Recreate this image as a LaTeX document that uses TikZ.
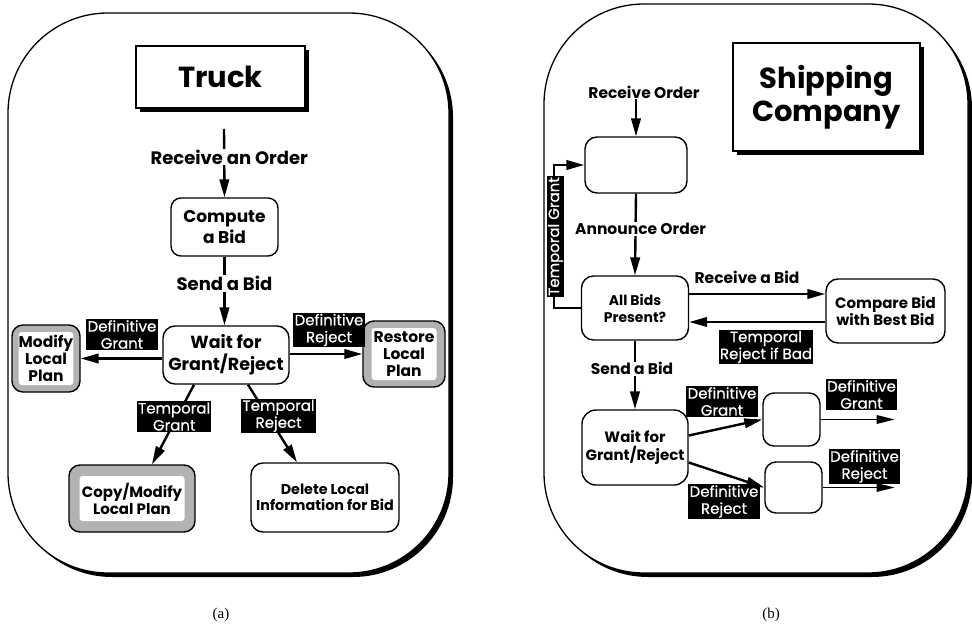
\documentclass[tikz,border=0pt]{standalone}
\usepackage{fontspec}
\setsansfont{Poppins}
\newfontfamily\lblfont{Poppins}[FakeBold=0.6]
\newfontfamily\capfont{Liberation Serif}
\usetikzlibrary{arrows.meta,calc,shadows}
\newcommand{\fsz}[2]{\fontsize{#1}{#2}\selectfont}
\begin{document}
\begin{tikzpicture}[x=1pt,y=-1pt,
  box/.style={draw, line width=1.4pt, fill=white, rounded corners=10pt, align=center,
    font=\sffamily\bfseries\fsz{15}{17}, inner sep=0pt},
  shadebox/.style={draw, line width=1.4pt, fill=gray!60, rounded corners=11pt, inner sep=0pt},
  innerw/.style={fill=white, rounded corners=3pt, align=center,
    font=\sffamily\bfseries\fsz{15.5}{17}, inner sep=0pt},
  titlebox/.style={draw, line width=1.3pt, fill=white, align=center, inner sep=0pt,
    font=\sffamily\bfseries\fsz{29}{33},
    drop shadow={opacity=1, fill=black, shadow xshift=4pt, shadow yshift=-4pt}},
  lbl/.style={fill=black, text=white, align=center, inner sep=1.2pt,
    font=\lblfont\fsz{15}{17}},
  plain/.style={fill=white, inner sep=1pt, font=\sffamily\bfseries\fsz{15.5}{17}},
  plainA/.style={plain, font=\sffamily\bfseries\fsz{18}{20}},
  arr/.style={line width=2.4pt, -{Triangle[length=18pt,width=9.5pt]}},
  arrthin/.style={line width=1.6pt, -{Triangle[length=18pt,width=8.5pt]}},
  captxt/.style={font=\capfont\fsz{15}{17}}
]
\useasboundingbox (0,0) rectangle (972,629);

% panels
\fill[black, rounded corners=100pt] (12,17) rectangle (453,577);
\draw[fill=white, line width=1.3pt, rounded corners=100pt] (8,13) rectangle (449,573);
\fill[black, rounded corners=100pt] (548,8) rectangle (972,577);
\draw[fill=white, line width=1.3pt, rounded corners=100pt] (544,4) rectangle (968,573);

% ---------- (a) Truck ----------
\node[titlebox, minimum width=169pt, minimum height=62pt] (truck) at (220.5,77) {Truck};
\coordinate (ra) at (224,129);
\node[box, minimum width=107pt, minimum height=58pt, font=\sffamily\bfseries\fsz{17}{21}] (compute) at (224.5,227) {Compute\\a Bid};
\node[box, rounded corners=12pt, minimum width=126pt, minimum height=58pt, font=\sffamily\bfseries\fsz{17.5}{22}] (wait) at (226,355) {Wait for\\Grant/Reject};
\node[shadebox, minimum width=68pt, minimum height=67pt] (modify) at (46,358.5) {};
\node[innerw, minimum width=52pt, minimum height=53pt] (modifyin) at (modify) {Modify\\Local\\Plan};
\node[shadebox, minimum width=82pt, minimum height=66pt] (restore) at (404,354) {};
\node[innerw, minimum width=65pt, minimum height=52pt] (restorein) at (restore) {Restore\\Local\\Plan};
\node[shadebox, minimum width=126pt, minimum height=67pt] (copy) at (132,498.5) {};
\node[innerw, minimum width=105pt, minimum height=45pt, font=\sffamily\bfseries\fsz{15}{17}] (copyin) at (copy) {Copy/Modify\\Local Plan};
\node[box, rounded corners=12pt, minimum width=148pt, minimum height=69pt, font=\sffamily\bfseries\fsz{14.3}{16.5}] (delete) at (325,497.5) {Delete Local\\Information for Bid};

\draw[arr] (ra) -- (compute.north) node[plainA, pos=0.41, xshift=5pt] (recv) {Receive an Order};
\draw[arr] (compute.south) -- (compute.south |- wait.north) node[plainA, pos=0.39] (send) {Send a Bid};
\draw[arr] (wait.west |- modify) -- (modify.east);
\draw[arr] (wait.east |- restore) -- (restore.west);
\draw[arr] ($(wait.south)+(-32,0)$) -- ($(copy.north)+(20,0)$) node[lbl, pos=0.4, xshift=-3pt] (tg) {Temporal\\Grant};
\draw[arr] ($(wait.south)+(22,0)$) -- ($(delete.north)+(-28,0)$) node[lbl, pos=0.4, xshift=11pt] (tr) {Temporal\\Reject};
\node[lbl] (dg) at (122,334.5) {Definitive\\Grant};
\node[lbl] (dr) at (329,330) {Definitive\\Reject};
\node[captxt] (capa) at (221,615) {(a)};

% ---------- (b) Shipping Company ----------
\node[titlebox, minimum width=187pt, minimum height=108pt] (ship) at (826.5,97) {Shipping\\Company};
\node[plain] (ro) at (644,92) {Receive Order};
\node[box, rounded corners=12pt, minimum width=102pt, minimum height=56pt] (top) at (636,165) {};
\node[box, rounded corners=12pt, minimum width=107pt, minimum height=64pt, font=\sffamily\bfseries\fsz{14}{17}] (allbids) at (635,308) {All Bids\\Present?};
\node[box, rounded corners=12pt, minimum width=119pt, minimum height=64pt, font=\sffamily\bfseries\fsz{15}{17}] (compare) at (885.5,311) {Compare Bid\\with Best Bid};
\node[box, rounded corners=14pt, minimum width=106pt, minimum height=75pt, font=\sffamily\bfseries\fsz{15}{17.5}] (waitb) at (635,447.5) {Wait for\\Grant/Reject};
\node[box, rounded corners=11pt, minimum width=57pt, minimum height=53pt] (boxg) at (791.5,419.5) {};
\node[box, rounded corners=11pt, minimum width=57pt, minimum height=51pt] (boxr) at (793.5,487.5) {};

\draw[arr] (ro.south -| top.north) -- (top.north);
\draw[arr] (top.south) -- (allbids.north) node[plain, pos=0.43, xshift=5pt] (ann) {Announce Order};
\draw[arr] (allbids.west) -- ++(-27,0) |- (top.west);
\draw[arr] ($(allbids.east)+(0,-14)$) -- ($(compare.west)+(0,-17)$);
\draw[arr] ($(compare.west)+(0,11)$) -- ($(allbids.east)+(0,14)$);
\draw[arr] (allbids.south) -- (waitb.north) node[plain, pos=0.41, xshift=-3pt] (sendb) {Send a Bid};
\draw[arr] ($(waitb.east)+(0,-12)$) -- (boxg.west);
\draw[arr] ($(waitb.east)+(0,15)$) -- (boxr.west);
\draw[arrthin] (boxg.east) -- ++(74,0) coordinate (gout);
\draw[arrthin] (boxr.east) -- ++(72,0) coordinate (rout);

\node[lbl, rotate=90, inner sep=0.8pt] (tgb) at (555.5,236.5) {Temporal Grant};
\node[plain, fill=none] (rb) at (747,277) {Receive a Bid};
\node[lbl] (trb) at (766,347) {Temporal\\Reject if Bad};
\node[lbl] (dgb) at (722,401.5) {Definitive\\Grant};
\node[lbl] (drb) at (724,501.5) {Definitive\\Reject};
\node[lbl] (dgo) at (861.5,394.5) {Definitive\\Grant};
\node[lbl] (dro) at (864.5,466.5) {Definitive\\Reject};
\node[captxt] (capb) at (771,615) {(b)};
\end{tikzpicture}
\end{document}
